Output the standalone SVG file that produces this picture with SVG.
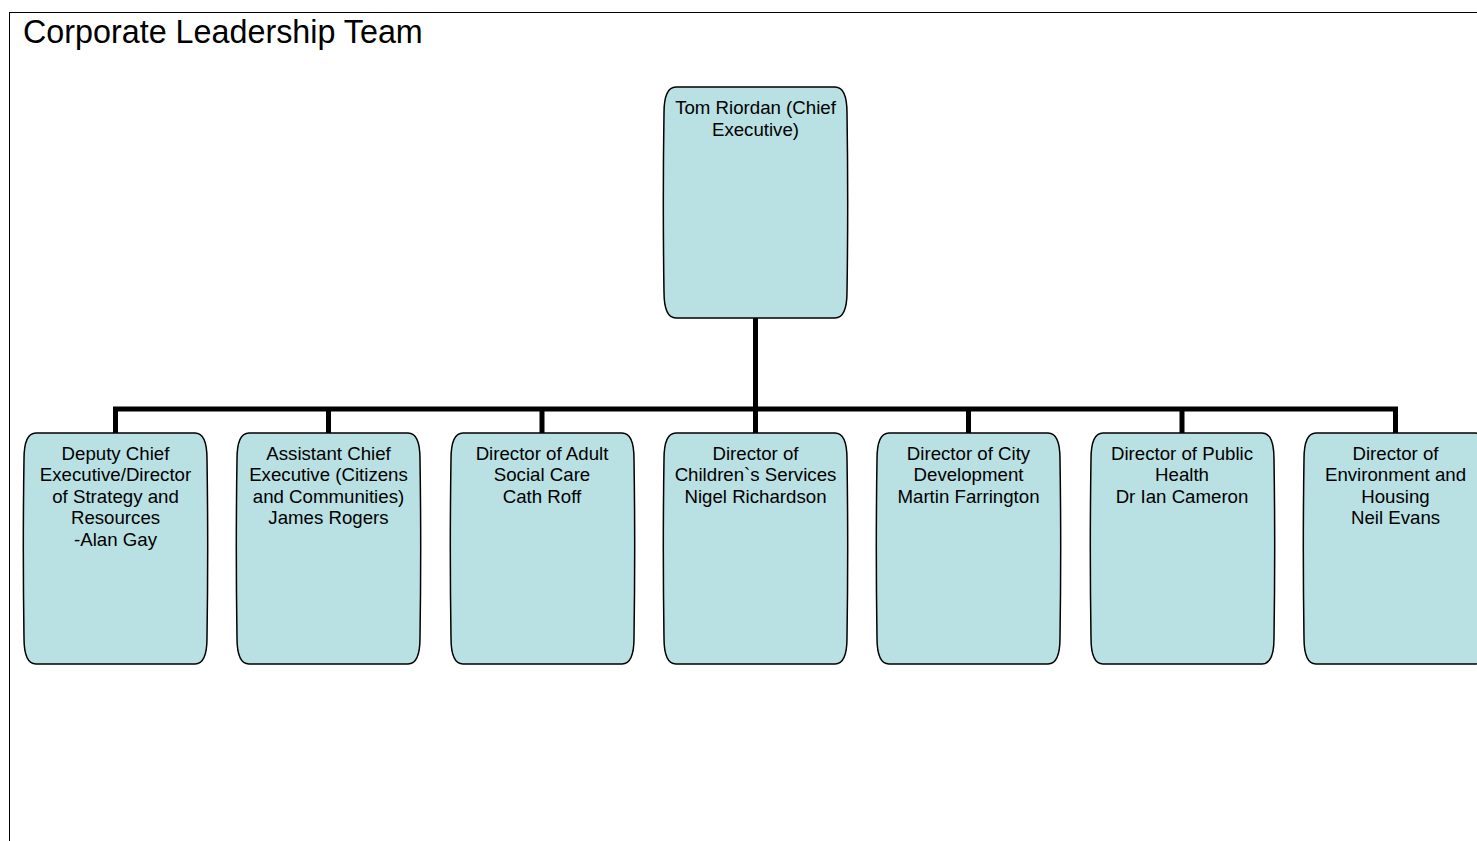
<svg xmlns="http://www.w3.org/2000/svg" width="1477" height="841" viewBox="0 0 1477 841">
<style>
.box{fill:#B9E0E3;stroke:#000;stroke-width:1.5}
.t{font-family:"Liberation Sans",Arial,sans-serif;font-size:18.67px;fill:#000;text-anchor:middle}
.title{font-family:"Liberation Sans",Arial,sans-serif;font-size:32.3px;fill:#000}
.conn{fill:none;stroke:#000;stroke-width:5}
</style>
<defs>
<path id="shape" d="M12,0 H171 C179,0 183,8 183,26 C184,90 184,140 183,205 C183,223 179,231 171,231 H12 C4,231 0,223 0,205 C-1,140 -1,90 0,26 C0,8 4,0 12,0 Z"/>
</defs>
<rect x="9.5" y="12.5" width="1500" height="900" fill="#fff" stroke="#000" stroke-width="1"/>
<text class="title" x="23" y="43">Corporate Leadership Team</text>
<g id="connectors">
<path class="conn" d="M755.5,318 V409 M115.5,433 V409 H1395.5 V433 M328.5,409 V433 M542,409 V433 M755.5,409 V433 M968.5,409 V433 M1182,409 V433"/>
</g>
<g id="n0"><use href="#shape" class="box" x="664" y="87"/>
<text class="t" x="755.5" y="114">Tom Riordan (Chief</text><text class="t" x="755.5" y="135.5">Executive)</text></g>
<g id="n1"><use href="#shape" class="box" x="24" y="433"/>
<text class="t" x="115.5" y="459.5">Deputy Chief</text><text class="t" x="115.5" y="481">Executive/Director</text><text class="t" x="115.5" y="502.5">of Strategy and</text><text class="t" x="115.5" y="524">Resources</text><text class="t" x="115.5" y="545.5">-Alan Gay</text></g>
<g id="n2"><use href="#shape" class="box" x="237" y="433"/>
<text class="t" x="328.5" y="459.5">Assistant Chief</text><text class="t" x="328.5" y="481">Executive (Citizens</text><text class="t" x="328.5" y="502.5">and Communities)</text><text class="t" x="328.5" y="524">James Rogers</text></g>
<g id="n3"><use href="#shape" class="box" x="451" y="433"/>
<text class="t" x="542" y="459.5">Director of Adult</text><text class="t" x="542" y="481">Social Care</text><text class="t" x="542" y="502.5">Cath Roff</text></g>
<g id="n4"><use href="#shape" class="box" x="664" y="433"/>
<text class="t" x="755.5" y="459.5">Director of</text><text class="t" x="755.5" y="481">Children`s Services</text><text class="t" x="755.5" y="502.5">Nigel Richardson</text></g>
<g id="n5"><use href="#shape" class="box" x="877" y="433"/>
<text class="t" x="968.5" y="459.5">Director of City</text><text class="t" x="968.5" y="481">Development</text><text class="t" x="968.5" y="502.5">Martin Farrington</text></g>
<g id="n6"><use href="#shape" class="box" x="1091" y="433"/>
<text class="t" x="1182" y="459.5">Director of Public</text><text class="t" x="1182" y="481">Health</text><text class="t" x="1182" y="502.5">Dr Ian Cameron</text></g>
<g id="n7"><use href="#shape" class="box" x="1304" y="433"/>
<text class="t" x="1395.5" y="459.5">Director of</text><text class="t" x="1395.5" y="481">Environment and</text><text class="t" x="1395.5" y="502.5">Housing</text><text class="t" x="1395.5" y="524">Neil Evans</text></g>
</svg>
